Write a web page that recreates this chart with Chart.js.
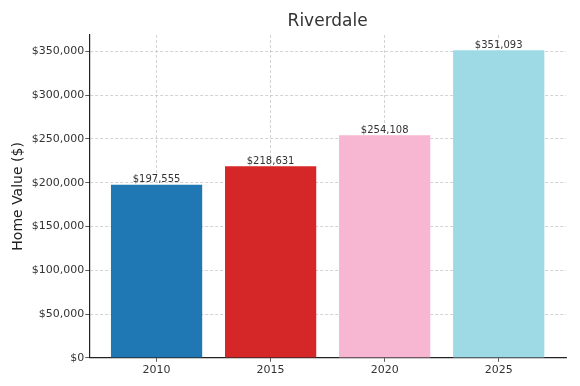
<!DOCTYPE html>
<html>
<head>
<meta charset="utf-8">
<script src="https://cdn.jsdelivr.net/npm/chart.js@4"></script>
<style>
  html, body { margin: 0; padding: 0; background: #fff; }
  #wrap { width: 580px; height: 386px; }
</style>
</head>
<body>
<div id="wrap"><canvas id="riverdaleChart"></canvas></div>
<script>
// chart data
var years = ['2010', '2015', '2020', '2025'];
var homeValues = [197555, 218631, 254108, 351093];
var barColors = ['#1f77b4', '#d62728', '#f7b6d2', '#9edae5'];
var yTicks = [0, 50000, 100000, 150000, 200000, 250000, 300000, 350000];

var FONT = 'DejaVu Sans, sans-serif';

function money(v) {
  return '$' + Math.round(v).toLocaleString('en-US');
}

// title centered over the plot area, like matplotlib
var titlePlugin = {
  id: 'plotTitle',
  afterDraw: function (chart) {
    var ctx = chart.ctx, a = chart.chartArea;
    ctx.save();
    ctx.font = '17px ' + FONT;
    ctx.fillStyle = '#333333';
    ctx.textAlign = 'center';
    ctx.textBaseline = 'bottom';
    ctx.fillText('Riverdale', (a.left + a.right) / 2, a.top - 5);
    ctx.restore();
  }
};

// value labels above each bar
var valueLabels = {
  id: 'valueLabels',
  afterDatasetsDraw: function (chart) {
    var ctx = chart.ctx;
    var meta = chart.getDatasetMeta(0);
    ctx.save();
    ctx.font = '10px ' + FONT;
    ctx.fillStyle = '#333333';
    ctx.textAlign = 'center';
    ctx.textBaseline = 'bottom';
    meta.data.forEach(function (bar, i) {
      ctx.fillText(money(homeValues[i]), bar.x, bar.y);
    });
    ctx.restore();
  }
};

var ctx = document.getElementById('riverdaleChart').getContext('2d');
new Chart(ctx, {
  type: 'bar',
  data: {
    datasets: [{
      data: homeValues.map(function (v, i) { return { x: i, y: v }; }),
      backgroundColor: barColors,
      borderWidth: 0,
      barPercentage: 0.8,
      categoryPercentage: 1.0
    }]
  },
  options: {
    responsive: true,
    maintainAspectRatio: false,
    animation: false,
    layout: { padding: { top: 35, right: 14, left: 10, bottom: 7 } },
    plugins: {
      legend: { display: false },
      tooltip: { enabled: false }
    },
    scales: {
      x: {
        type: 'linear',
        min: -0.59,
        max: 3.59,
        offset: false,
        z: 1,
        afterBuildTicks: function (axis) {
          axis.ticks = years.map(function (y, i) { return { value: i }; });
        },
        ticks: {
          callback: function (v) { return years[v]; },
          color: '#333333',
          font: { family: FONT, size: 11 },
          padding: 2
        },
        grid: {
          offset: false,
          color: 'rgba(176,176,176,0.7)',
          lineWidth: 0.8,
          tickLength: 4,
          tickColor: '#333333'
        },
        border: { display: true, color: '#222222', width: 1.2, dash: [3, 2] }
      },
      y: {
        min: 0,
        max: 368647,
        z: 1,
        afterBuildTicks: function (axis) {
          axis.ticks = yTicks.map(function (v) { return { value: v }; });
        },
        ticks: {
          callback: function (v) { return money(v); },
          color: '#333333',
          font: { family: FONT, size: 11 },
          padding: 1
        },
        grid: {
          color: 'rgba(176,176,176,0.7)',
          lineWidth: 0.8,
          tickLength: 4,
          tickColor: '#333333'
        },
        border: { display: true, color: '#222222', width: 1.2, dash: [3, 2] },
        title: {
          display: true,
          text: 'Home Value ($)',
          color: '#222222',
          font: { family: FONT, size: 14 },
          padding: { top: 0, bottom: 4 }
        }
      }
    }
  },
  plugins: [titlePlugin, valueLabels]
});
</script>
</body>
</html>
